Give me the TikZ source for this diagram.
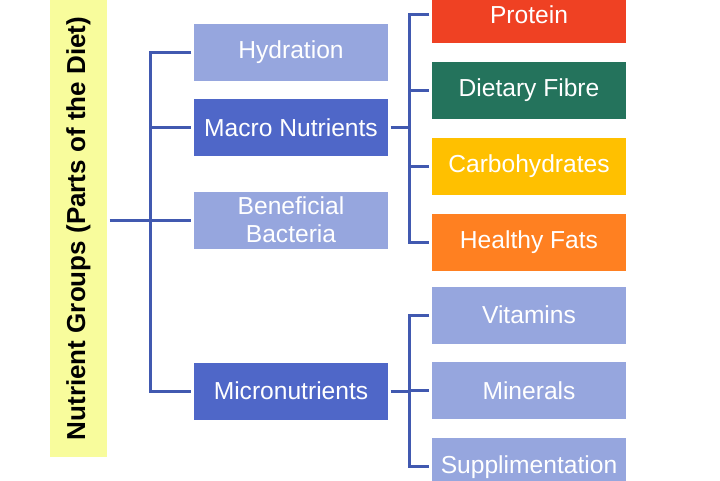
\documentclass[tikz,border=0pt]{standalone}
\usepackage{fontspec}
\setmainfont{Liberation Sans}
\usetikzlibrary{positioning}
\definecolor{barYellow}{HTML}{F8FC9C}
\definecolor{lightBlue}{HTML}{96A6DE}
\definecolor{darkBlue}{HTML}{4F67C8}
\definecolor{lineBlue}{HTML}{4159B0}
\definecolor{proRed}{HTML}{EF4123}
\definecolor{fibGreen}{HTML}{24735C}
\definecolor{carbYellow}{HTML}{FFC000}
\definecolor{fatOrange}{HTML}{FF8021}
\begin{document}
\begin{tikzpicture}[x=1pt, y=-1pt,
  box/.style = {rectangle, minimum width=194pt, minimum height=57pt,
    inner sep=0pt, text=white, align=center,
    font=\fontsize{24.6}{28}\selectfont},
  light/.style = {box, fill=lightBlue},
  dark/.style = {box, fill=darkBlue},
  link/.style = {draw=lineBlue, line width=3pt, shorten <=2.5pt, shorten >=2.5pt},
  branch/.style = {draw=lineBlue, line width=3pt, shorten >=2.5pt}]
\useasboundingbox (0,0) rectangle (720,480);
% vertical title bar
\node[fill=barYellow, rotate=90, minimum width=457pt, minimum height=57pt,
  inner sep=0pt, font=\fontsize{26}{28}\selectfont\bfseries]
  (bar) at (78.5,228.5) {Nutrient Groups (Parts of the Diet)};
% first level
\node[light] (hyd) at (291,52.5) {Hydration};
\node[dark]  (mac) at (291,127.5) {Macro Nutrients};
\node[light] (ben) at (291,220) {Beneficial\\Bacteria};
\node[dark]  (mic) at (291,391) {Micronutrients};
% macro nutrients
\node[box, fill=proRed] (pro) at (529,14.5) {Protein};
\node[box, fill=fibGreen] (fib) [below = 18.5pt of pro] {Dietary Fibre};
\node[box, fill=carbYellow] (car) [below = 18.5pt of fib] {Carbohydrates};
\node[box, fill=fatOrange] (fat) [below = 18.5pt of car] {Healthy Fats};
% micronutrients
\node[light] (vit) at (529,315) {Vitamins};
\node[light] (min) [below = 18.5pt of vit] {Minerals};
\node[light] (sup) [below = 18.5pt of min] {Supplimentation};
% connectors
\coordinate (j1) at (150,220);
\draw[link] (bar.south |- ben) -- (ben.west);
\draw[link] (hyd.west) -| (j1) |- (mic.west);
\draw[branch] (mac.west -| j1) -- (mac.west);
\draw[link, shorten >=0pt] (mac.east) -- ++(21,0) coordinate (j2);
\draw[link] (pro.west) -| (j2) |- (fat.west);
\draw[branch] (fib.west -| j2) -- (fib.west);
\draw[branch] (car.west -| j2) -- (car.west);
\draw[link, shorten >=0pt] (mic.east) -- ++(21,0) coordinate (j3);
\draw[link] (vit.west) -| (j3) |- (sup.west);
\draw[branch] (min.west -| j3) -- (min.west);
\end{tikzpicture}
\end{document}
